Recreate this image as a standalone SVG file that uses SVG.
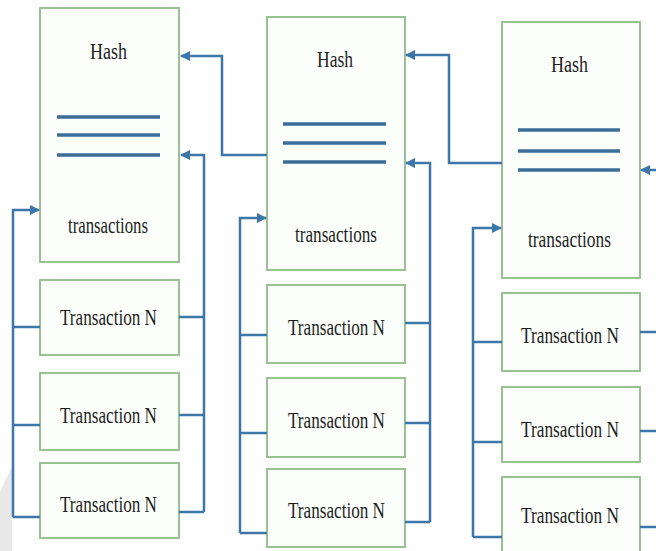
<svg xmlns="http://www.w3.org/2000/svg" width="656" height="551" viewBox="0 0 656 551">
<style>
.box{fill:#fbfefa;stroke:#98c292;stroke-width:2}
.hl{stroke:#3a6d98;stroke-width:3.5;fill:none}
.cn{stroke:#3d76a8;stroke-width:2.5;fill:none}
.ar{stroke:#3d76a8;stroke-width:2.5;fill:none;marker-end:url(#ah)}
.t{font-family:'Liberation Serif','Times New Roman',serif;font-size:23.5px;fill:#1e1e1e;text-anchor:middle}
</style>
<defs>
<marker id="ah" viewBox="0 0 10 10" refX="9" refY="5" markerWidth="4.2" markerHeight="4.2" orient="auto" markerUnits="strokeWidth">
<path d="M0,0 L10,5 L0,10 z" fill="#3d76a8"/>
</marker>
</defs>
<rect x="0" y="0" width="656" height="551" fill="#ffffff"/>
<polygon points="0,492 12,466 12,551 0,551" fill="#e8e8e8"/>

<g id="block1">
<rect class="box" x="40" y="8" width="139" height="254"/>
<text class="t" x="108.5" y="59" textLength="37" lengthAdjust="spacingAndGlyphs">Hash</text>
<line class="hl" x1="57" y1="117" x2="160" y2="117"/>
<line class="hl" x1="57" y1="135" x2="160" y2="135"/>
<line class="hl" x1="57" y1="155" x2="160" y2="155"/>
<text class="t" x="108" y="233" textLength="80" lengthAdjust="spacingAndGlyphs">transactions</text>
</g>
<g id="b1t1"><rect class="box" x="40" y="280" width="139" height="75"/><text class="t" x="108.5" y="325" textLength="97" lengthAdjust="spacingAndGlyphs">Transaction N</text></g>
<g id="b1t2"><rect class="box" x="40" y="373" width="139" height="77"/><text class="t" x="108.5" y="423" textLength="97" lengthAdjust="spacingAndGlyphs">Transaction N</text></g>
<g id="b1t3"><rect class="box" x="40" y="463" width="139" height="75"/><text class="t" x="108.5" y="512" textLength="97" lengthAdjust="spacingAndGlyphs">Transaction N</text></g>

<g id="block2">
<rect class="box" x="267" y="17" width="138" height="253"/>
<text class="t" x="335" y="67" textLength="36" lengthAdjust="spacingAndGlyphs">Hash</text>
<line class="hl" x1="283" y1="124" x2="386" y2="124"/>
<line class="hl" x1="283" y1="143" x2="386" y2="143"/>
<line class="hl" x1="283" y1="162" x2="386" y2="162"/>
<text class="t" x="336" y="242" textLength="82" lengthAdjust="spacingAndGlyphs">transactions</text>
</g>
<g id="b2t1"><rect class="box" x="267" y="285" width="138" height="78"/><text class="t" x="336.5" y="335" textLength="97" lengthAdjust="spacingAndGlyphs">Transaction N</text></g>
<g id="b2t2"><rect class="box" x="267" y="378" width="138" height="79"/><text class="t" x="336.5" y="428" textLength="97" lengthAdjust="spacingAndGlyphs">Transaction N</text></g>
<g id="b2t3"><rect class="box" x="267" y="469" width="138" height="78"/><text class="t" x="336.5" y="518" textLength="97" lengthAdjust="spacingAndGlyphs">Transaction N</text></g>

<g id="block3">
<rect class="box" x="502" y="22" width="138" height="256"/>
<text class="t" x="569.5" y="72" textLength="37" lengthAdjust="spacingAndGlyphs">Hash</text>
<line class="hl" x1="518" y1="130" x2="620" y2="130"/>
<line class="hl" x1="518" y1="151" x2="620" y2="151"/>
<line class="hl" x1="518" y1="170" x2="620" y2="170"/>
<text class="t" x="569.5" y="247" textLength="83" lengthAdjust="spacingAndGlyphs">transactions</text>
</g>
<g id="b3t1"><rect class="box" x="502" y="293" width="138" height="78"/><text class="t" x="570" y="343" textLength="98" lengthAdjust="spacingAndGlyphs">Transaction N</text></g>
<g id="b3t2"><rect class="box" x="502" y="387" width="138" height="75"/><text class="t" x="570" y="437" textLength="98" lengthAdjust="spacingAndGlyphs">Transaction N</text></g>
<g id="b3t3"><rect class="box" x="502" y="477" width="138" height="76"/><text class="t" x="570" y="523" textLength="98" lengthAdjust="spacingAndGlyphs">Transaction N</text></g>

<g id="connectors">
<path class="ar" d="M13,517 L13,210 L39,210"/>
<path class="cn" d="M13,327 H40 M13,425 H40 M13,517 H40"/>
<path class="ar" d="M204,512 L204,155 L181,155"/>
<path class="cn" d="M179,317 H204 M179,415 H204 M179,512 H204"/>
<path class="ar" d="M267,155 L222,155 L222,56 L181,56"/>
<path class="ar" d="M240,533 L240,218 L266,218"/>
<path class="cn" d="M240,335 H267 M240,433 H267 M240,533 H267"/>
<path class="ar" d="M430,522 L430,163 L406,163"/>
<path class="cn" d="M405,323 H430 M405,423 H430 M405,522 H430"/>
<path class="ar" d="M502,163 L449,163 L449,55 L406,55"/>
<path class="ar" d="M473,537 L473,228 L501,228"/>
<path class="cn" d="M473,342 H502 M473,442 H502 M473,537 H502"/>
<path class="ar" d="M656,170 L641,170"/>
<path class="cn" d="M640,332 H656 M640,431 H656 M640,527 H656"/>
</g>
</svg>
